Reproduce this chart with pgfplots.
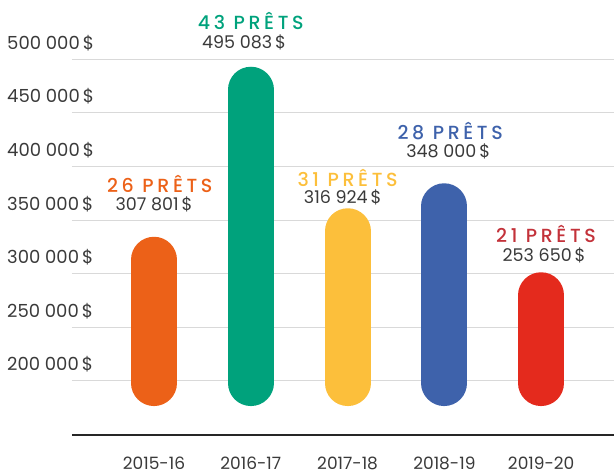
\documentclass[border=0pt]{standalone}
\usepackage{pgfplots}
\pgfplotsset{compat=1.18}
\usepackage{fontspec}
\setmainfont{Poppins}
\newfontfamily\spaced[LetterSpace=19, UprightFont={Poppins Medium}]{Poppins}
\definecolor{corange}{HTML}{EC6118}
\definecolor{cgreen}{HTML}{00A27C}
\definecolor{cyellow}{HTML}{FCBF3B}
\definecolor{cblue}{HTML}{3E62AB}
\definecolor{cred}{HTML}{E42A1D}
\definecolor{credtxt}{HTML}{C3323A}
\definecolor{txt}{HTML}{3A3A3A}
\definecolor{gridc}{HTML}{D9D9D9}
\newcommand{\ttl}[1]{{\fontsize{19}{19}\selectfont\spaced #1}}
\newcommand{\num}[1]{{\fontsize{17.5}{17.5}\selectfont\color{txt}#1}}
\begin{document}
\begin{tikzpicture}
\begin{axis}[
  scale only axis, width=542pt, height=435pt,
  xmin=-0.847, xmax=4.752, ymin=149550, ymax=555315,
  clip=false,
  axis x line*=bottom, axis y line*=left,
  x axis line style={draw=black!85, line width=2.6pt, -},
  y axis line style={draw=none},
  major tick length=0pt,
  ymajorgrids, major grid style={draw=gridc, line width=1pt},
  ytick={200000,250000,300000,350000,400000,450000,500000},
  yticklabels={200 000\,\$,250 000\,\$,300 000\,\$,350 000\,\$,400 000\,\$,450 000\,\$,500 000\,\$},
  yticklabel style={anchor=base west, inner sep=0pt, xshift=-65pt, yshift=10pt, font=\fontsize{18}{18}\selectfont, text=txt},
  xtick={0,1,2,3,4},
  xticklabels={2015-16,2016-17,2017-18,2018-19,2019-20},
  xticklabel style={anchor=base, inner sep=0pt, text depth=0pt, yshift=-34.5pt, font=\fontsize{17}{17}\selectfont, text=txt},
]
\addplot[draw=corange, line width=46pt, line cap=round] coordinates {(0,198000) (0,313000)};
\addplot[draw=cgreen, line width=46pt, line cap=round] coordinates {(1,198000) (1,471600)};
\addplot[draw=cyellow, line width=46pt, line cap=round] coordinates {(2,198000) (2,339600)};
\addplot[draw=cblue, line width=46pt, line cap=round] coordinates {(3,198000) (3,362900)};
\addplot[draw=cred, line width=46pt, line cap=round] coordinates {(4,198000) (4,279900)};

\node[anchor=base, text=corange, inner sep=0pt] at (axis cs:0.06,375560) {\ttl{26 PRÊTS}};
\node[anchor=base, inner sep=0pt] at (axis cs:0,358770) {\num{307 801\,\$}};
\node[anchor=base, text=cgreen, inner sep=0pt] at (axis cs:1.0,527980) {\ttl{43 PRÊTS}};
\node[anchor=base, inner sep=0pt] at (axis cs:0.93,510260) {\num{495 083\,\$}};
\node[anchor=base, text=cyellow, inner sep=0pt] at (axis cs:2.0,381160) {\ttl{31 PRÊTS}};
\node[anchor=base, inner sep=0pt] at (axis cs:1.95,365020) {\num{316 924\,\$}};
\node[anchor=base, text=cblue, inner sep=0pt] at (axis cs:3.06,425380) {\ttl{28 PRÊTS}};
\node[anchor=base, inner sep=0pt] at (axis cs:3.04,408590) {\num{348 000\,\$}};
\node[anchor=base, text=credtxt, inner sep=0pt] at (axis cs:4.05,328920) {\ttl{21 PRÊTS}};
\node[anchor=base, inner sep=0pt] at (axis cs:4.03,311850) {\num{253 650\,\$}};

\coordinate (bl) at (rel axis cs:0,0);
\coordinate (tr) at (rel axis cs:1,1);
\end{axis}
\pgfresetboundingbox
\path[use as bounding box] ([xshift=-72pt,yshift=-38pt]bl) rectangle (tr);
\end{tikzpicture}
\end{document}
